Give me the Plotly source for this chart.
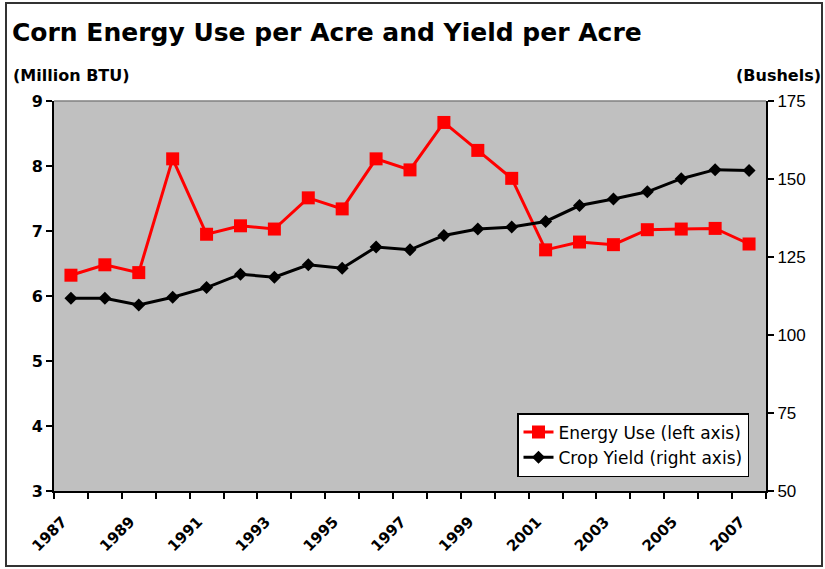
import plotly.graph_objects as go

years = list(range(1987, 2008))
energy_use = [6.32, 6.48, 6.36, 8.11, 6.95, 7.08, 7.03, 7.51, 7.34, 8.11, 7.94,
              8.67, 8.24, 7.81, 6.71, 6.83, 6.79, 7.02, 7.03, 7.04, 6.80]
crop_yield = [111.8, 111.8, 109.6, 112.1, 115.2, 119.5, 118.5, 122.5, 121.4, 128.2, 127.3,
              131.9, 134.0, 134.6, 136.4, 141.5, 143.6, 145.9, 150.1, 153.0, 152.7]
x_labels = [str(y) for y in range(1987, 2008, 2)]
left_ticks = [3, 4, 5, 6, 7, 8, 9]
right_ticks = [50, 75, 100, 125, 150, 175]

ARIAL = "Liberation Sans, Arial, sans-serif"
WIDE = "DejaVu Sans, Verdana, sans-serif"

boundaries = [y - 0.5 for y in years] + [years[-1] + 0.5]
x_range = [years[0] - 0.5, years[-1] + 0.5]
# rotated labels sit slightly left of their year, as in the original
label_shift = 0.25

fig = go.Figure()
fig.add_trace(go.Scatter(
    x=years, y=energy_use, name="Energy Use (left axis)", mode="lines+markers",
    legendgroup="a",
    line=dict(color="#ff0000", width=3),
    marker=dict(symbol="square", size=13, color="#ff0000"),
))
fig.add_trace(go.Scatter(
    x=years, y=crop_yield, name="Crop Yield (right axis)", mode="lines+markers",
    yaxis="y2", legendgroup="b",
    line=dict(color="#000000", width=3),
    marker=dict(symbol="diamond", size=10, color="#000000"),
))

tick_common = dict(ticklen=6, tickcolor="black", tickwidth=1.5)

fig.update_layout(
    width=825, height=569,
    margin=dict(l=54, r=59, t=101, b=78),
    paper_bgcolor="white",
    plot_bgcolor="#c0c0c0",
    font=dict(family=ARIAL, color="black"),
    title=dict(text="<b>Corn Energy Use per Acre and Yield per Acre</b>",
               x=12 / 825, xanchor="left", y=1 - 32 / 569, yanchor="middle",
               font=dict(size=25, family=WIDE, color="black")),
    showlegend=True,
    legend=dict(x=(749 - 54) / 712, xanchor="right", y=(491 - 413) / 390, yanchor="top",
                bgcolor="white", bordercolor="black", borderwidth=1.5,
                font=dict(size=17, family=WIDE, color="black"), tracegroupgap=0),
    xaxis=dict(
        range=x_range,
        tickmode="array", tickvals=[int(v) - label_shift for v in x_labels], ticktext=x_labels,
        tickangle=-45, ticks="", showgrid=False, zeroline=False,
        showline=True, linecolor="black", linewidth=2,
        ticklabelstandoff=14,
        tickfont=dict(size=15, family=WIDE, color="black", weight="bold"),
        minor=dict(tickmode="array", tickvals=boundaries,
                   ticks="outside", ticklen=6, tickcolor="black", tickwidth=1.5,
                   showgrid=False),
    ),
    xaxis2=dict(
        range=x_range, overlaying="x", anchor="y", side="bottom",
        tickmode="array", tickvals=boundaries, ticks="inside", **tick_common,
        showticklabels=False, showgrid=False, zeroline=False, showline=False,
    ),
    yaxis=dict(
        range=[3, 9], tickmode="array", tickvals=left_ticks,
        ticks="outside", **tick_common,
        showgrid=False, zeroline=False,
        showline=True, linecolor="black", linewidth=2,
        tickfont=dict(size=16, family=WIDE, color="black", weight="bold"),
    ),
    yaxis2=dict(
        range=[50, 175], tickmode="array", tickvals=right_ticks,
        overlaying="y", side="right",
        ticks="outside", **tick_common,
        showgrid=False, zeroline=False,
        showline=True, linecolor="black", linewidth=2,
        tickfont=dict(size=17, family=ARIAL, color="black"),
    ),
    yaxis3=dict(
        range=[3, 9], tickmode="array", tickvals=left_ticks, overlaying="y", side="left",
        ticks="inside", **tick_common, showticklabels=False,
        showgrid=False, zeroline=False, showline=False,
    ),
    yaxis4=dict(
        range=[50, 175], tickmode="array", tickvals=right_ticks, overlaying="y", side="right",
        ticks="inside", **tick_common, showticklabels=False,
        showgrid=False, zeroline=False, showline=False,
    ),
)

# top edge of plot area
fig.add_shape(type="line", xref="paper", yref="paper", x0=0, x1=1, y0=1, y1=1,
              line=dict(color="#808080", width=1.5))
# outer frame
fig.add_shape(type="rect", xref="paper", yref="paper",
              x0=(6 - 54) / 712, x1=(822 - 54) / 712,
              y0=(491 - 566) / 390, y1=(491 - 3) / 390,
              line=dict(color="#333333", width=2), layer="below")

fig.add_annotation(text="<b>(Million BTU)</b>", xref="paper", yref="paper",
                   x=(11 - 54) / 712, y=(491 - 75) / 390, xanchor="left", yanchor="middle",
                   showarrow=False, font=dict(size=16, family=WIDE, color="black"))
fig.add_annotation(text="<b>(Bushels)</b>", xref="paper", yref="paper",
                   x=(823 - 54) / 712, y=(491 - 75) / 390, xanchor="right", yanchor="middle",
                   showarrow=False, font=dict(size=16, family=WIDE, color="black"))

fig.write_html("out.html", config={"displayModeBar": False},
               post_script="document.body.style.margin='0px';")
